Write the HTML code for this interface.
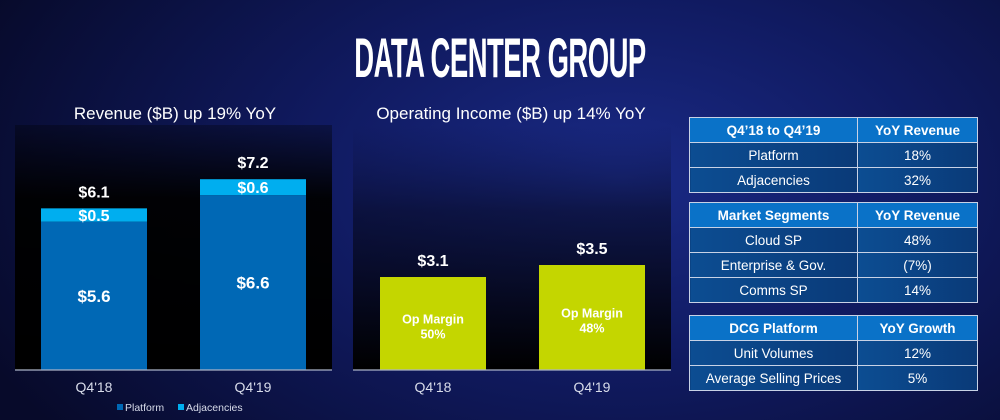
<!DOCTYPE html>
<html><head><meta charset="utf-8">
<style>
html,body{margin:0;padding:0;width:1000px;height:420px;overflow:hidden;font-family:"Liberation Sans",sans-serif}
#bg{position:absolute;left:0;top:0;width:1000px;height:420px;background:radial-gradient(ellipse 700px 420px at 620px 180px,#1a2a86 0%,#101a60 45%,#070a2a 100%)}
.title{position:absolute;left:100px;top:28px;width:800px;text-align:center;color:#fff;font-weight:bold;font-size:56px;transform:scaleX(0.49);letter-spacing:-1px;line-height:60px;white-space:nowrap}
.sub{position:absolute;top:104px;color:#fff;font-size:17px;text-align:center;white-space:nowrap}
table{position:absolute;left:689px;width:289px;border-collapse:collapse;color:#fff;font-size:13.5px}
td{border:1.5px solid #c8d2e6;text-align:center;height:24px;padding:0}
td:first-child{width:167px}
tr.h td{background:#0a72c8;font-weight:bold}
tr.b td{background:linear-gradient(90deg,#0c4d92,#0a3a78)}
</style></head><body>
<div id="bg"></div>
<div class="title">DATA CENTER GROUP</div>
<div class="sub" style="left:20px;width:310px">Revenue ($B) up 19% YoY</div>
<div class="sub" style="left:350px;width:322px">Operating Income ($B) up 14% YoY</div>
<svg id="chart" width="1000" height="420" style="position:absolute;left:0;top:0">
<defs><linearGradient id="og" x1="0" y1="0" x2="0" y2="1"><stop offset="0" stop-color="#0b1240" stop-opacity="0"/><stop offset="0.35" stop-color="#070a24" stop-opacity="0.6"/><stop offset="1" stop-color="#000"/></linearGradient>
<linearGradient id="lg" x1="0" y1="0" x2="0" y2="1"><stop offset="0" stop-color="#000" stop-opacity="0.3"/><stop offset="0.3" stop-color="#000" stop-opacity="0.95"/><stop offset="1" stop-color="#000"/></linearGradient></defs>
</svg>
<table style="top:117px">
<tr class="h"><td>Q4’18 to Q4’19</td><td>YoY Revenue</td></tr>
<tr class="b"><td>Platform</td><td>18%</td></tr>
<tr class="b"><td>Adjacencies</td><td>32%</td></tr>
</table>
<table style="top:202px">
<tr class="h"><td>Market Segments</td><td>YoY Revenue</td></tr>
<tr class="b"><td>Cloud SP</td><td>48%</td></tr>
<tr class="b"><td>Enterprise &amp; Gov.</td><td>(7%)</td></tr>
<tr class="b"><td>Comms SP</td><td>14%</td></tr>
</table>
<table style="top:315px">
<tr class="h"><td>DCG Platform</td><td>YoY Growth</td></tr>
<tr class="b"><td>Unit Volumes</td><td>12%</td></tr>
<tr class="b"><td>Average Selling Prices</td><td>5%</td></tr>
</table>
<script>
const categories=["Q4'18","Q4'19"];
const platform=[5.6,6.6];
const adjacencies=[0.5,0.6];
const revTotals=["$6.1","$7.2"];
const platLabels=["$5.6","$6.6"];
const adjLabels=["$0.5","$0.6"];
const opIncome=[3.1,3.5];
const opLabels=["$3.1","$3.5"];
const opMargins=["50%","48%"];

const svg=document.getElementById('chart');
const NS='http://www.w3.org/2000/svg';
function mk(t,a,p){const e=document.createElementNS(NS,t);for(const k in a)e.setAttribute(k,a[k]);(p||svg).appendChild(e);return e;}
function txt(x,y,s,size,w,fill,name){const e=mk('text',{x:x,y:y,'text-anchor':'middle','font-size':size,'font-weight':w,fill:fill||'#fff','font-family':'Liberation Sans, sans-serif'});e.textContent=s;


return e;}
const base=370;
const yRev=v=>base-v*26.5;
const yOp=v=>base-v*30;
const xRev=i=>41+i*159;
const xOp=i=>380+i*159;
const bw=106;

let bgL=mk('rect',{x:15,y:125,width:317,height:245,fill:'url(#lg)'});


let bgR=mk('rect',{x:353,y:125,width:318,height:245,fill:'url(#og)'});



categories.forEach((c,i)=>{
  const x=xRev(i);
  const pTop=yRev(platform[i]);
  const aTop=yRev(platform[i]+adjacencies[i]);
  let r=mk('rect',{x:x,y:pTop,width:bw,height:base-pTop,fill:'#0068b5'});
  
  
  let a=mk('rect',{x:x,y:aTop,width:bw,height:pTop-aTop,fill:'#00aeef'});
  
  
  txt(x+bw/2,(pTop+base)/2+6,platLabels[i],17,'bold','#fff','platform-value-label');
  txt(x+bw/2,(aTop+pTop)/2+6,adjLabels[i],16,'bold','#fff','adjacencies-value-label');
  txt(x+bw/2,aTop-11,revTotals[i],16,'bold','#fff','revenue-total-label');
  txt(x+bw/2,392,c,14,'normal','#d8dcea','revenue-x-label');

  const ox=xOp(i);const oTop=yOp(opIncome[i]);
  let o=mk('rect',{x:ox,y:oTop,width:bw,height:base-oTop,fill:'#c4d600'});
  
  
  txt(ox+bw/2,oTop-11,opLabels[i],16,'bold','#fff','op-income-value-label');
  const my=(oTop+base)/2;
  txt(ox+bw/2,my,'Op Margin',12.5,'bold','#fff','op-margin-label');
  txt(ox+bw/2,my+15,opMargins[i],12.5,'bold','#fff','op-margin-value');
  txt(ox+bw/2,392,c,14,'normal','#d8dcea','op-income-x-label');
});
let l1=mk('line',{x1:15,y1:base,x2:332,y2:base,stroke:'#aab2c8','stroke-width':1.2});


let l2=mk('line',{x1:353,y1:base,x2:671,y2:base,stroke:'#aab2c8','stroke-width':1.2});


const legend=[["Platform","#0068b5",117],["Adjacencies","#00aeef",178]];
legend.forEach(l=>{
  let s=mk('rect',{x:l[2],y:404,width:6,height:6,fill:l[1]});
  
  
  let t=txt(l[2]+8,411,l[0],10.5,'normal','#d8dcea','legend-entry');
  t.setAttribute('text-anchor','start');
});
</script>
</body></html>
